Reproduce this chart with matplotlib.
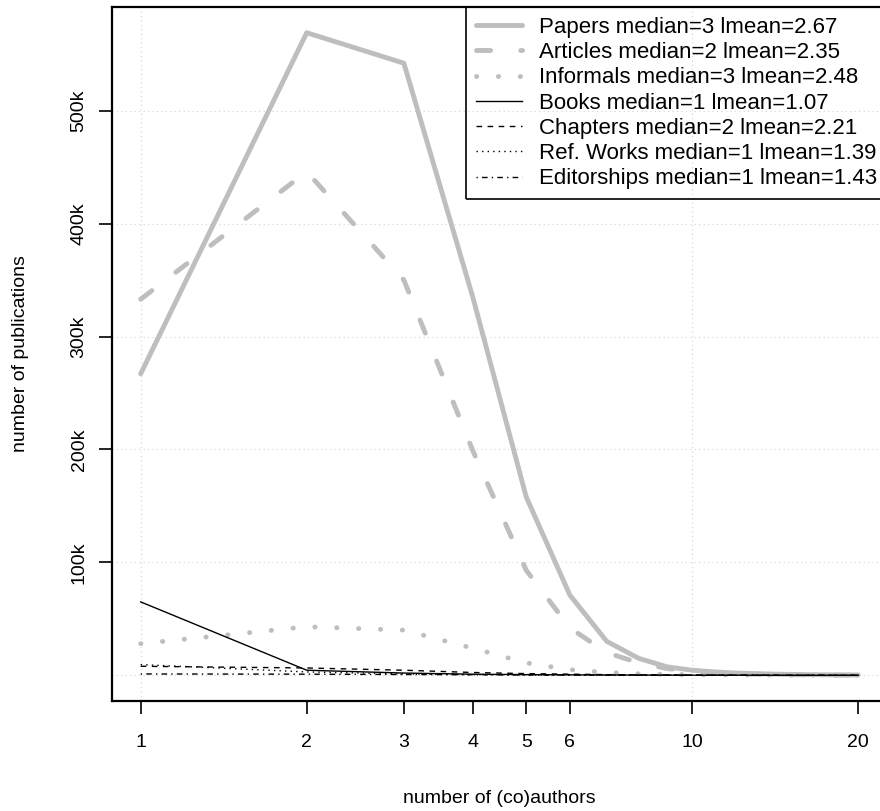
import numpy as np
import matplotlib.pyplot as plt
from matplotlib.ticker import FixedLocator, FuncFormatter, NullLocator

plt.rcParams['font.family'] = ['Liberation Sans', 'DejaVu Sans']

# number of (co)authors
authors = list(range(1, 21))

# publications per number of authors, in thousands
papers = [267, 569, 542, 335, 158, 71, 30, 15, 7.5, 4.5,
          3.0, 2.0, 1.5, 1.1, 0.8, 0.6, 0.5, 0.4, 0.3, 0.3]
articles = [333, 446, 350, 199, 93, 42, 20, 11, 6, 3.5,
            2.3, 1.5, 1.0, 0.7, 0.5, 0.4, 0.3, 0.2, 0.2, 0.15]
informals = [28, 43, 40, 24, 11, 5, 2.5, 1.3, 0.8, 0.5,
             0.4, 0.3, 0.25, 0.2, 0.15, 0.12, 0.1, 0.08, 0.07, 0.06]
books = [65, 4.5, 2.0, 1.0, 0.6, 0.4, 0.3, 0.2, 0.15, 0.1,
         0.08, 0.06, 0.05, 0.04, 0.03, 0.03, 0.02, 0.02, 0.02, 0.02]
chapters = [8, 6.5, 4.5, 2.5, 1.5, 1.0, 0.6, 0.4, 0.3, 0.2,
            0.15, 0.1, 0.08, 0.06, 0.05, 0.04, 0.03, 0.03, 0.02, 0.02]
refworks = [9.5, 3.0, 1.2, 0.6, 0.3, 0.2, 0.1, 0.08, 0.05, 0.04,
            0.03, 0.02, 0.02, 0.01, 0.01, 0.01, 0.01, 0.01, 0.01, 0.01]
editorships = [1.2, 1.0, 0.7, 0.5, 0.3, 0.2, 0.15, 0.1, 0.08, 0.06,
               0.05, 0.04, 0.03, 0.02, 0.02, 0.01, 0.01, 0.01, 0.01, 0.01]

labels = ['Papers median=3 lmean=2.67',
          'Articles median=2 lmean=2.35',
          'Informals median=3 lmean=2.48',
          'Books median=1 lmean=1.07',
          'Chapters median=2 lmean=2.21',
          'Ref. Works median=1 lmean=1.39',
          'Editorships median=1 lmean=1.43']

xticks = [1, 2, 3, 4, 5, 6, 10, 20]
yticks = [100, 200, 300, 400, 500]

FS = 14
LFS = 16
gray = '#bebebe'

fig = plt.figure(figsize=(8.8, 8.11), dpi=100)
ax = fig.add_axes([112/880, 1 - 701/811, 775/880, 694/811])

x = np.array(authors)
ser = [np.array(s) * 1000 for s in
       (papers, articles, informals, books, chapters, refworks, editorships)]

# R style: 4% extension of the data range
lx = np.log10(x)
xr = lx.max() - lx.min()
ax.set_xscale('log')
ax.set_xlim(10 ** (lx.min() - 0.04 * xr), 10 ** (lx.max() + 0.04 * xr))
ymax = max(s.max() for s in ser)
ymin = min(s.min() for s in ser)
yr = ymax - ymin
ax.set_ylim(ymin - 0.04 * yr, ymax + 0.04 * yr)

# grid first, so the curves sit on top
for gx in (1, 10):
    ax.axvline(gx, color='#d3d3d3', lw=0.8, ls=(0, (1, 3)), zorder=0)
for gy in [0] + yticks:
    ax.axhline(gy * 1000, color='#d3d3d3', lw=0.8, ls=(0, (1, 3)), zorder=0)

lw = 3.5
ax.plot(x, ser[0], color=gray, lw=lw, solid_capstyle='round',
        solid_joinstyle='round', label=labels[0])
ax.plot(x, ser[1], color=gray, lw=lw, ls=(0, (2.9, 6.2)),
        dash_capstyle='round', dash_joinstyle='round', label=labels[1])
ax.plot(x, ser[2], color=gray, lw=lw, ls=(0, (0.05, 4.45)),
        dash_capstyle='round', label=labels[2])
ax.plot(x, ser[3], color='black', lw=1.0, label=labels[3])
ax.plot(x, ser[4], color='black', lw=1.0, ls=(0, (4, 4)), label=labels[4])
ax.plot(x, ser[5], color='black', lw=1.0, ls=(0, (1, 3)), label=labels[5])
ax.plot(x, ser[6], color='black', lw=1.0, ls=(0, (1, 3, 4, 3)), label=labels[6])

ax.xaxis.set_major_locator(FixedLocator(xticks))
ax.xaxis.set_minor_locator(NullLocator())
ax.xaxis.set_major_formatter(FuncFormatter(lambda v, p: '%d' % v))
ax.yaxis.set_major_locator(FixedLocator([v * 1000 for v in yticks]))
ax.yaxis.set_major_formatter(FuncFormatter(lambda v, p: '%dk' % round(v / 1000)))

ax.tick_params(axis='both', direction='out', length=9.5, width=1.2,
               labelsize=FS, color='black')
ax.tick_params(axis='x', pad=14)
ax.tick_params(axis='y', pad=8)
for lab in ax.get_yticklabels():
    lab.set_rotation(90)
    lab.set_va('center')
for sp in ax.spines.values():
    sp.set_linewidth(1.6)

ax.set_xlabel('number of (co)authors', fontsize=FS, labelpad=28)
ax.set_ylabel('number of publications', fontsize=FS, labelpad=30)

leg = ax.legend(loc='upper right', bbox_to_anchor=(1, 1), borderaxespad=0,
                fontsize=LFS, fancybox=False, edgecolor='black',
                handlelength=2.1, handletextpad=0.75, labelspacing=0.19,
                borderpad=0.45)
leg.get_frame().set_facecolor('none')
leg.get_frame().set_alpha(None)
leg.get_frame().set_linewidth(1.2)

fig.savefig('out.png', dpi=100)
